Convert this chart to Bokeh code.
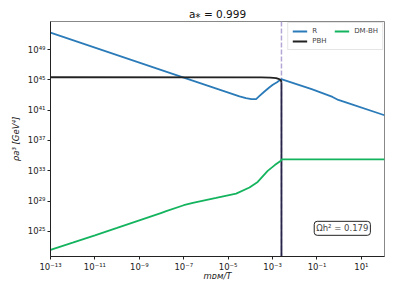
from bokeh.plotting import figure
from bokeh.models import Span, Label, Legend, LegendItem, FixedTicker, CustomJSTickFormatter
from bokeh.embed import file_html
from bokeh.resources import INLINE

# ---- data (log10 values) ----
logx_R = [-13, -7, -4.49, -4.2, -3.95, -3.74, -3.6, -3.365, -3.15, -2.99, -2.8, -2.61,
          -1.24, -0.3, -0.04, 0.3, 2.04]
logy_R = [51.25, 45.3, 42.81, 42.58, 42.47, 42.46, 42.85, 43.47, 44.0, 44.36, 44.7, 45.1,
          43.77, 42.75, 42.35, 42.03, 40.33]

logx_PBH = [-13, -3.5, -3.1, -2.84, -2.7, -2.63, -2.6]
logy_PBH = [45.35, 45.33, 45.3, 45.24, 45.1, 44.95, 44.7]
logx_PBH_drop = [-2.6, -2.6]
logy_PBH_drop = [44.7, 15.0]

logx_DM = [-13, -12, -11, -10, -9, -8, -7.79, -7, -6.59, -5.54, -4.64, -4.04, -3.67,
           -3.22, -2.9, -2.61, -2.6, 2.04]
logy_DM = [22.55, 23.5, 24.46, 25.45, 26.45, 27.45, 27.66, 28.45, 28.75, 29.41, 29.99,
           30.79, 31.53, 32.99, 33.75, 34.35, 34.5, 34.5]

x_ticks_exp = [-13, -11, -9, -7, -5, -3, -1, 1]
y_ticks_exp = [25, 29, 33, 37, 41, 45, 49]
logx_evap = -2.6
omega_text = "Ωh² = 0.179"
title_text = "a⁎ = 0.999"
xlabel_text = "mᴅᴍ/T"
ylabel_text = "ρa³ [GeV⁴]"

def p10(v):
    return [10.0 ** t for t in v]

p = figure(width=385, height=288, x_axis_type="log", y_axis_type="log",
           x_range=(1e-13, 10 ** 2.04), y_range=(10 ** 21.68, 10 ** 52.71),
           output_backend="svg", toolbar_location=None,
           min_border_left=50, min_border_right=1, min_border_top=21, min_border_bottom=32)

p.title.text = title_text
p.title.align = "center"
p.title.text_font = "DejaVu Sans"
p.title.text_font_size = "10.5px"
p.title.text_font_style = "normal"
p.title.text_color = "#111111"
p.title.standoff = 3

p.xgrid.visible = False
p.ygrid.visible = False
p.outline_line_color = "#888888"
p.outline_line_width = 1

fmt = CustomJSTickFormatter(code="""
const sup = {'-':'\u207b','0':'\u2070','1':'\u00b9','2':'\u00b2','3':'\u00b3','4':'\u2074',
             '5':'\u2075','6':'\u2076','7':'\u2077','8':'\u2078','9':'\u2079'};
const e = Math.round(Math.log10(tick));
return '10' + String(e).split('').map(c => sup[c]).join('');
""")

for ax, exps in ((p.xaxis, x_ticks_exp), (p.yaxis, y_ticks_exp)):
    ax.ticker = FixedTicker(ticks=p10(exps))
    ax.formatter = fmt
    ax.minor_tick_line_color = None
    ax.major_tick_out = 3
    ax.major_tick_in = 0
    ax.major_label_text_font = "DejaVu Sans"
    ax.major_label_text_font_size = "8.5px"
    ax.major_label_text_color = "#222222"
    ax.axis_line_color = "#222222"
    ax.major_tick_line_color = "#222222"
    ax.major_label_standoff = 2
    ax.axis_label_text_font = "DejaVu Sans"
    ax.axis_label_text_font_size = "8.5px"
    ax.axis_label_text_font_style = "italic"
    ax.axis_label_text_color = "#222222"

p.yaxis.axis_label = ylabel_text
p.yaxis.axis_label_standoff = 4
p.xaxis.axis_label = xlabel_text
p.xaxis.axis_label_standoff = -4

span = Span(location=10 ** logx_evap, dimension="height", line_color="#b3a6d4",
            line_dash="5 2", line_width=1.5, level="underlay")
p.add_layout(span)

rR = p.line(p10(logx_R), p10(logy_R), line_color="#2b7bb9", line_width=1.8)
rP = p.line(p10(logx_PBH), p10(logy_PBH), line_color="#222222", line_width=1.8)
p.line(p10(logx_PBH_drop), p10(logy_PBH_drop), line_color="#262548", line_width=1.8)
rD = p.line(p10(logx_DM), p10(logy_DM), line_color="#14b35e", line_width=1.8)

legend = Legend(items=[LegendItem(label="R", renderers=[rR]),
                       LegendItem(label="PBH", renderers=[rP]),
                       LegendItem(label="DM-BH", renderers=[rD])],
                ncols=2, location="top_right")
legend.label_text_font = "DejaVu Sans"
legend.label_text_font_size = "7px"
legend.glyph_width = 15
legend.glyph_height = 8
legend.label_height = 8
legend.label_width = 20
legend.label_standoff = 5
legend.spacing = 2
legend.padding = 4
legend.margin = 1
legend.border_line_color = "#cccccc"
legend.background_fill_alpha = 0.85
p.add_layout(legend)

omega = Label(x=10 ** 0.14, y=10 ** 25.4, text=omega_text, text_align="center",
              text_baseline="middle", text_font="DejaVu Sans", text_font_size="8.5px",
              border_line_color="#222222", border_line_width=1,
              background_fill_color="white", padding=2, border_radius=3)
p.add_layout(omega)

open("out.html", "w").write(file_html(p, INLINE))
